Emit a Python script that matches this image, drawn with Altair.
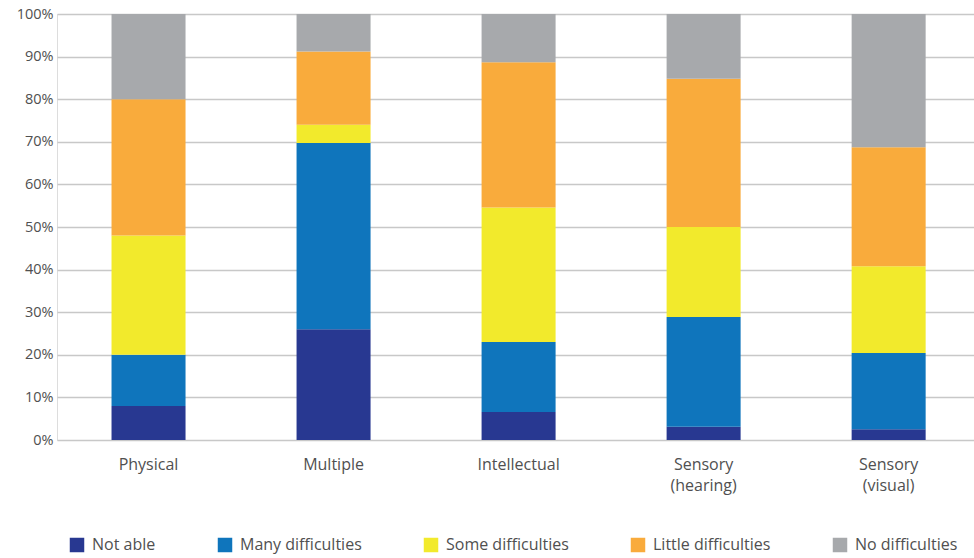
import altair as alt
import pandas as pd

# Disability type categories (x axis)
categories = ["Physical", "Multiple", "Intellectual", "Sensory (hearing)", "Sensory (visual)"]

# Response levels, bottom to top of each stack
levels = ["Not able", "Many difficulties", "Some difficulties", "Little difficulties", "No difficulties"]
level_colors = ["#283891", "#0f75bc", "#f2ea2c", "#f9ab3c", "#a7a9ac"]

# Share of respondents (%) per level, one value per category
not_able = [8.0, 26.0, 6.6, 3.1, 2.5]
many_difficulties = [12.0, 43.7, 16.4, 25.8, 17.9]
some_difficulties = [28.0, 4.3, 31.6, 21.1, 20.4]
little_difficulties = [32.0, 17.2, 34.1, 34.8, 27.9]
no_difficulties = [20.0, 8.8, 11.3, 15.2, 31.3]

series = [not_able, many_difficulties, some_difficulties, little_difficulties, no_difficulties]

rows = []
for li, (level, values) in enumerate(zip(levels, series)):
    for cat, v in zip(categories, values):
        rows.append({"category": cat, "level": level, "order": li, "share": v})
df = pd.DataFrame(rows)

FONT = "Open Sans"
TEXT = "#505050"

chart = (
    alt.Chart(df)
    .mark_bar()
    .encode(
        x=alt.X(
            "category:N",
            sort=categories,
            title=None,
            scale=alt.Scale(paddingInner=0.6, paddingOuter=0.278, align=0.53),
            axis=alt.Axis(
                labelAngle=0,
                labelExpr="split(datum.label, ' ')",
                labelFont=FONT,
                labelFontSize=16,
                labelColor=TEXT,
                labelPadding=16,
                labelLineHeight=21,
                ticks=False,
                domain=False,
                grid=False,
            ),
        ),
        y=alt.Y(
            "share:Q",
            stack="zero",
            title=None,
            scale=alt.Scale(domain=[0, 100], nice=False),
            axis=alt.Axis(
                values=list(range(0, 101, 10)),
                labelExpr="datum.value + '%'",
                labelFont=FONT,
                labelFontSize=14.5,
                labelColor=TEXT,
                labelPadding=4,
                ticks=False,
                domain=False,
                grid=True,
                gridColor="#c8c8c8",
                gridWidth=1.6,
            ),
        ),
        color=alt.Color(
            "level:N",
            scale=alt.Scale(domain=levels, range=level_colors),
            legend=alt.Legend(
                title=None,
                orient="none",
                legendX=12,
                legendY=523,
                direction="horizontal",
                columns=5,
                columnPadding=61,
                symbolType="square",
                symbolSize=210,
                symbolStrokeWidth=0,
                symbolOpacity=1,
                labelFont=FONT,
                labelFontSize=16,
                labelColor=TEXT,
                labelOffset=7,
                labelLimit=300,
            ),
        ),
        order=alt.Order("order:Q", sort="ascending"),
    )
    .properties(
        width=917,
        height=426,
        autosize=alt.AutoSizeParams(type="none"),
        padding={"left": 57, "top": 14, "right": 0, "bottom": 118},
    )
    .configure_view(stroke=None)
    .configure(background="white")
)

chart.save("out.html", embed_options={"renderer": "svg", "actions": False})
